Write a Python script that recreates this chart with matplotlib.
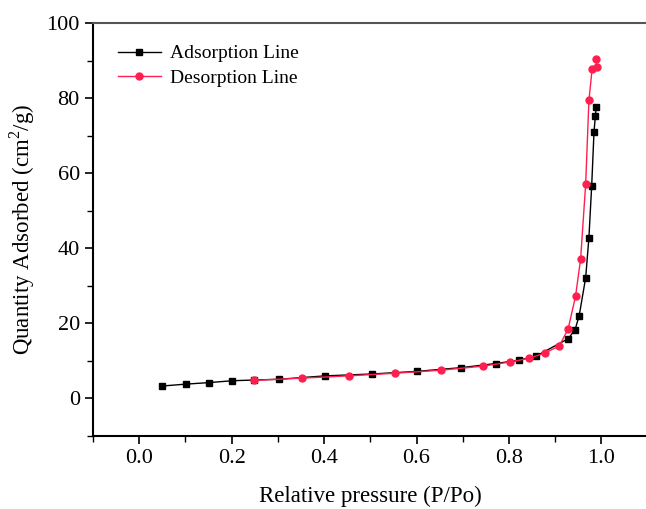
import matplotlib
matplotlib.use('Agg')
import matplotlib.pyplot as plt
from matplotlib.ticker import MultipleLocator

plt.rcParams['font.family'] = 'Liberation Serif'
plt.rcParams['mathtext.fontset'] = 'custom'
plt.rcParams['mathtext.rm'] = 'Liberation Serif'

# Adsorption branch (black squares)
ads_p = [0.050, 0.101, 0.150, 0.201, 0.249, 0.303, 0.402, 0.503, 0.601, 0.697,
         0.772, 0.822, 0.859, 0.928, 0.943, 0.952, 0.966, 0.973, 0.979, 0.984,
         0.987, 0.989]
ads_q = [3.2, 3.7, 4.1, 4.6, 4.8, 5.0, 5.9, 6.4, 7.1, 8.1,
         9.2, 10.1, 11.2, 15.8, 18.2, 22.0, 32.1, 42.8, 56.6, 71.0,
         75.2, 77.7]

# Desorption branch (red circles)
des_p = [0.988, 0.991, 0.980, 0.973, 0.966, 0.955, 0.944, 0.928, 0.909, 0.878,
         0.844, 0.802, 0.744, 0.652, 0.553, 0.453, 0.352, 0.249]
des_q = [90.5, 88.4, 87.8, 79.4, 57.1, 37.0, 27.1, 18.4, 13.9, 12.0,
         10.6, 9.6, 8.5, 7.4, 6.6, 5.9, 5.3, 4.7]

fig = plt.figure(figsize=(6.46, 5.09), dpi=100)
ax = fig.add_axes([0.144, 0.1444, 0.8585, 0.8104])

ax.plot(ads_p, ads_q, color='black', linewidth=1.0, marker='s', markersize=5,
        label='Adsorption Line')
ax.plot(des_p, des_q, color='#ff1f4f', linewidth=1.0, marker='o', markersize=5,
        label='Desorption Line')

ax.set_xlim(-0.1, 1.1)
ax.set_ylim(-10, 100)
ax.xaxis.set_minor_locator(MultipleLocator(0.1))
ax.yaxis.set_minor_locator(MultipleLocator(10))
ax.set_xticks([0.0, 0.2, 0.4, 0.6, 0.8, 1.0])
ax.set_yticks([0, 20, 40, 60, 80, 100])
ax.tick_params(which='major', direction='out', length=6, width=1.2, labelsize=16,
               top=False, right=False)
ax.tick_params(which='minor', direction='out', length=4, width=1.0,
               top=False, right=False)
ax.tick_params(axis='x', pad=4)

for s in ax.spines.values():
    s.set_linewidth(1.5)
ax.spines['top'].set_color('#555555')

ax.set_xlabel('Relative pressure (P/Po)', fontsize=16.5, labelpad=12.5)
ax.set_ylabel('Quantity Adsorbed (cm$^2$/g)', fontsize=16.5, labelpad=7)

ax.legend(loc='upper left', bbox_to_anchor=(0.02, 0.98), frameon=False,
          fontsize=14, handlelength=2.2, handletextpad=0.5, labelspacing=0.35,
          borderaxespad=0.3)

fig.savefig('out.png', dpi=100, facecolor='white')
